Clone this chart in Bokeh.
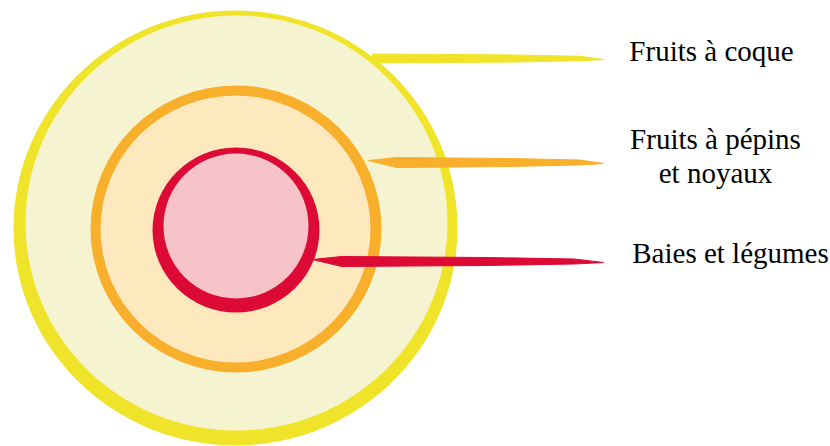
from bokeh.plotting import figure
from bokeh.models import Range1d, ColumnDataSource
from bokeh.core.properties import value
from bokeh.embed import file_html
from bokeh.resources import INLINE

# ---- data ----
ring_names = ["Fruits à coque", "Fruits à pépins et noyaux", "Baies et légumes"]
ring_fill = ["#F6F3D1", "#FEE8BE", "#F6C3C8"]
ring_line = ["#F0E42A", "#F8AF2B", "#DE0A36"]
# outer edge of each brush ring (centre, half-width, half-height)
outer_cx = [235, 235.5, 235.5]
outer_cy = [227.5, 228.5, 229.5]
outer_hw = [222, 145.5, 83.5]
outer_hh = [217.5, 143.5, 82.5]
# inner edge of each brush ring
inner_cx = [236, 235, 235.5]
inner_cy = [222.5, 228.5, 225.5]
inner_hw = [211, 135, 72.5]
inner_hh = [207.5, 133.5, 72.5]

leader_x0 = [372, 368, 312]
leader_y = [58, 162, 261]
leader_x1 = [603, 603, 603]
leader_w = [9, 10, 10]
leader_start_taper = [0.0, 0.12, 0.1]

label_lines = ["Fruits à coque", "Fruits à pépins", "et noyaux", "Baies et légumes"]
label_x = [711, 715, 715, 730]
label_y = [50, 138, 172, 252]

# ---- figure ----
p = figure(width=830, height=446, output_backend="svg", toolbar_location=None,
           x_range=Range1d(0, 830), y_range=Range1d(446, 0),
           x_axis_location=None, y_axis_location=None, min_border=0)
p.grid.visible = False
p.outline_line_color = None
p.background_fill_color = "white"
p.border_fill_color = "white"

for i in range(len(ring_names)):
    p.ellipse(x=[outer_cx[i]], y=[outer_cy[i]], width=[2 * outer_hw[i]],
              height=[2 * outer_hh[i]], fill_color=ring_line[i], line_color=None)
    p.ellipse(x=[inner_cx[i]], y=[inner_cy[i]], width=[2 * inner_hw[i]],
              height=[2 * inner_hh[i]], fill_color=ring_fill[i], line_color=None)

# tapered brush-like leader strokes
xs, ys = [], []
for x0, y, x1, w, t in zip(leader_x0, leader_y, leader_x1, leader_w, leader_start_taper):
    L = x1 - x0
    xm = x0 + 0.6 * L
    xb = x0 + 0.9 * L
    if t:
        xa = x0 + t * L
        xs.append([x0, xa, xm, xb, x1, xb, xm, xa])
        ys.append([y - 2, y - w / 2, y - w * 0.4, y - w * 0.25, y + 1,
                   y + w * 0.25, y + w * 0.4, y + w / 2])
    else:
        xs.append([x0, xm, xb, x1, xb, xm, x0])
        ys.append([y - w / 2, y - w * 0.4, y - w * 0.25, y + 1,
                   y + w * 0.25, y + w * 0.4, y + w / 2])
p.patches(xs=xs, ys=ys, fill_color=ring_line, line_color=ring_line, line_width=1)

p.text(x=label_x, y=label_y, text=label_lines,
       text_font=value("Liberation Serif"), text_font_size="29px",
       text_align="center", text_baseline="middle", text_color="#000000")

open("out.html", "w").write(file_html(p, INLINE))
